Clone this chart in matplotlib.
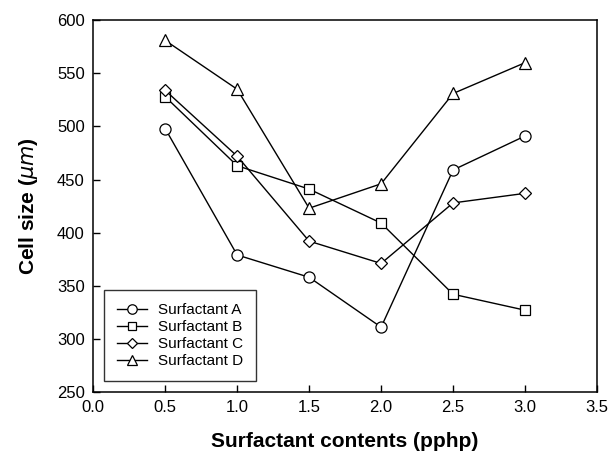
import numpy as np
import matplotlib.pyplot as plt

# Surfactant content (pphp)
contents = [0.5, 1.0, 1.5, 2.0, 2.5, 3.0]

# Cell size (um) for each surfactant
size_a = [498, 379, 358, 311, 459, 491]
size_b = [528, 463, 441, 409, 342, 327]
size_c = [534, 472, 392, 371, 428, 437]
size_d = [581, 535, 423, 446, 531, 560]

labels = ['Surfactant A', 'Surfactant B', 'Surfactant C', 'Surfactant D']
markers = ['o', 's', 'D', '^']
marker_sizes = [8, 7, 6.5, 8.5]


def main():
    """Draw cell size against surfactant content."""
    plt.rcParams['font.family'] = ['Liberation Sans', 'DejaVu Sans']
    fig = plt.figure(figsize=(6.13, 4.59), dpi=100)
    ax = fig.add_axes([0.152, 0.146, 0.822, 0.810])

    series = [size_a, size_b, size_c, size_d]
    for values, label, marker, ms in zip(series, labels, markers, marker_sizes):
        ax.plot(contents, values, color='black', linewidth=1.0,
                marker=marker, markersize=ms, markerfacecolor='white',
                markeredgecolor='black', markeredgewidth=0.9, label=label)

    ax.set_xlim(0.0, 3.5)
    ax.set_ylim(250, 600)
    ax.set_xticks(np.arange(0.0, 3.51, 0.5))
    ax.set_yticks(np.arange(250, 601, 50))
    ax.xaxis.set_major_formatter(plt.FormatStrFormatter('%.1f'))
    ax.tick_params(direction='in', length=5, width=1, labelsize=12,
                   top=False, right=False, pad=6)
    for spine in ax.spines.values():
        spine.set_linewidth(1.1)

    ax.set_xlabel('Surfactant contents (pphp)', fontsize=15,
                  fontweight='bold', labelpad=12)
    ax.set_ylabel(r'Cell size ($\mu m$)', fontsize=15,
                  fontweight='bold', labelpad=12)

    leg = ax.legend(loc='lower left', fontsize=11, frameon=True,
                    fancybox=False, edgecolor='black', handlelength=2.0,
                    borderaxespad=0.7, labelspacing=0.2, borderpad=0.85,
                    markerscale=0.85, handletextpad=0.7)
    leg.get_frame().set_linewidth(1.0)

    fig.savefig('out.png', dpi=100)


if __name__ == "__main__":
    main()
